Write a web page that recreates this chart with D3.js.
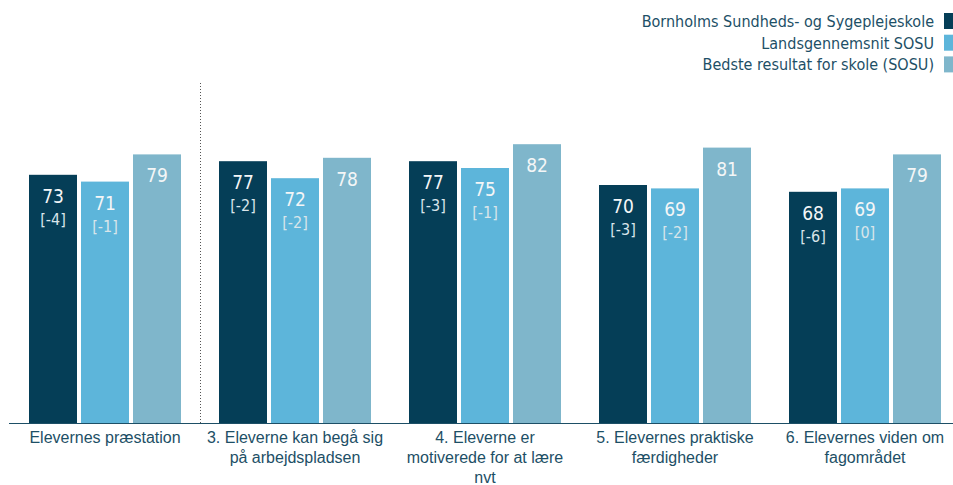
<!DOCTYPE html>
<html><head><meta charset="utf-8">
<script src="https://cdn.jsdelivr.net/npm/d3@7"></script>
<style>
html,body{margin:0;padding:0;background:#fff;}
svg{display:block;font-family:"DejaVu Sans Condensed","DejaVu Sans",sans-serif;}
</style></head>
<body><svg id="c" width="953" height="485"></svg>
<script>
const categories = [
  "Elevernes præstation",
  "3. Eleverne kan begå sig\npå arbejdspladsen",
  "4. Eleverne er\nmotiverede for at lære\nnvt",
  "5. Elevernes praktiske\nfærdigheder",
  "6. Elevernes viden om\nfagområdet"
];
const seriesNames = ["Bornholms Sundheds- og Sygeplejeskole","Landsgennemsnit SOSU","Bedste resultat for skole (SOSU)"];
const schoolValues = [73,77,77,70,68];
const schoolDiffs = ["[-4]","[-2]","[-3]","[-3]","[-6]"];
const nationalValues = [71,72,75,69,69];
const nationalDiffs = ["[-1]","[-2]","[-1]","[-2]","[0]"];
const bestValues = [79,78,82,81,79];
const colors = ["#053e57","#5db5da","#7fb6cb"];
const textColor = "#1d4f66";

const svg = d3.select("#c");
const x0 = d3.scaleBand().domain(categories).range([10,960]).paddingInner(0).paddingOuter(0);
const y = d3.scaleLinear().domain([0,100]).range([423,83]);
const keys = [0,1,2];
const x1 = d3.scaleBand().domain(keys).range([19,171]).paddingInner(4/52).paddingOuter(0);

const rows = categories.map((c,i)=>({c, vals:[
  {k:0,v:schoolValues[i],d:schoolDiffs[i]},
  {k:1,v:nationalValues[i],d:nationalDiffs[i]},
  {k:2,v:bestValues[i],d:null}]}));

const g = svg.selectAll("g.grp").data(rows).join("g").attr("class","grp")
  .attr("transform",d=>`translate(${x0(d.c)},0)`);
g.selectAll("rect").data(d=>d.vals).join("rect")
  .attr("x",d=>x1(d.k)).attr("width",x1.bandwidth())
  .attr("y",d=>y(d.v)).attr("height",d=>y(0)-y(d.v))
  .attr("fill",d=>colors[d.k]);
g.selectAll("text.val").data(d=>d.vals).join("text").attr("class","val")
  .attr("x",d=>x1(d.k)+x1.bandwidth()/2).attr("y",d=>y(d.v)+28)
  .attr("text-anchor","middle").attr("font-size",19).attr("fill","#f4f6f7")
  .text(d=>d.v);
g.selectAll("text.diff").data(d=>d.vals.filter(v=>v.d)).join("text").attr("class","diff")
  .attr("x",d=>x1(d.k)+x1.bandwidth()/2).attr("y",d=>y(d.v)+50)
  .attr("text-anchor","middle").attr("font-size",16).attr("fill","#d9e5ea")
  .text(d=>d.d);

// separator
svg.append("line").attr("x1",x0(categories[1])+0.5).attr("x2",x0(categories[1])+0.5)
  .attr("y1",y(100)).attr("y2",y(0)).attr("stroke","#555").attr("stroke-width",1).attr("stroke-dasharray","1,2");

// axis
const ax = svg.append("g").attr("transform",`translate(0,${y(0)})`)
  .call(d3.axisBottom(x0).tickSize(0).tickFormat(""));
ax.select(".domain").attr("stroke","#1d4f66").attr("d","M9,0.5H953");
ax.selectAll(".tick").each(function(d){
  const lines = d.split("\n");
  const t = d3.select(this).append("text").attr("fill",textColor).attr("font-size",16)
    .attr("text-anchor","middle");
  lines.forEach((l,i)=>t.append("tspan").attr("x",0).attr("y",20+i*20).text(l));
});

// legend
const lg = svg.append("g");
seriesNames.forEach((n,i)=>{
  lg.append("text").attr("x",934).attr("y",27+i*21.7).attr("text-anchor","end")
    .attr("font-size",16).attr("fill",textColor).text(n);
  lg.append("rect").attr("x",944).attr("y",13+i*21.7).attr("width",10).attr("height",16).attr("fill",colors[i]);
});
</script></body></html>
